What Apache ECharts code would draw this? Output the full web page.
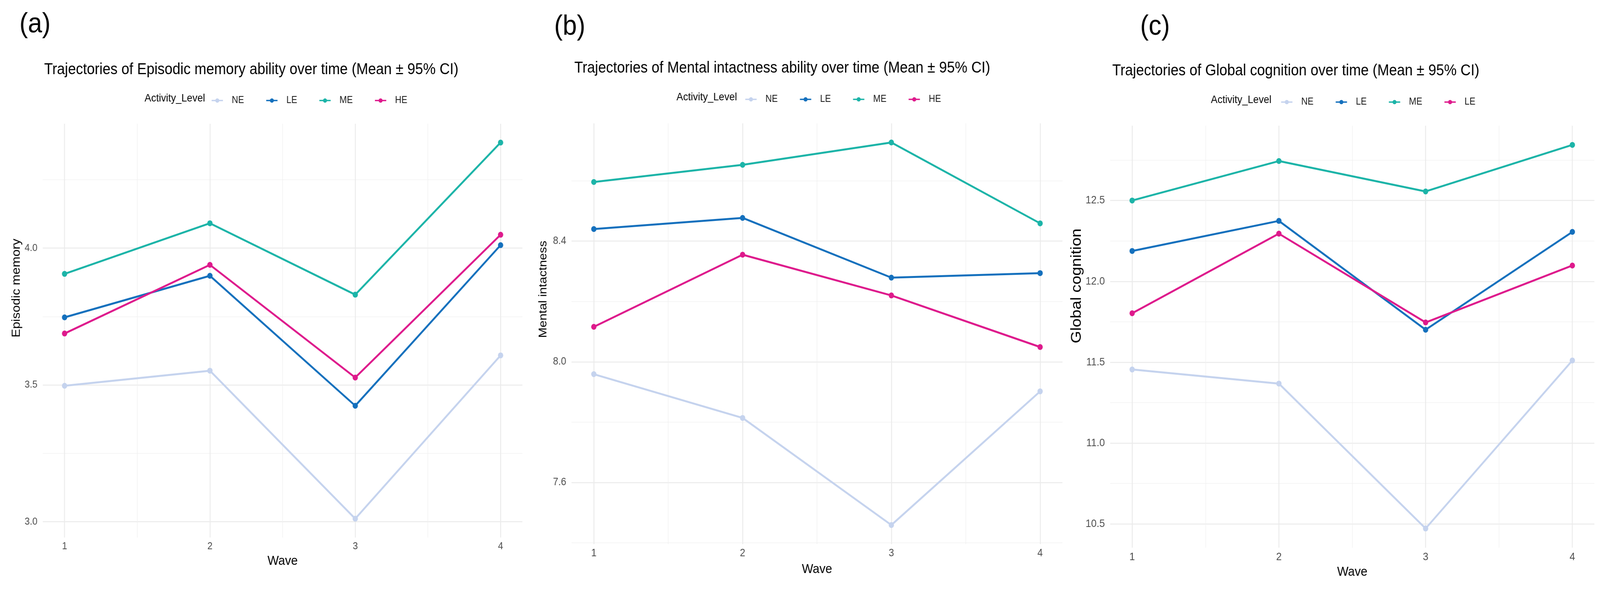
<!DOCTYPE html>
<html><head><meta charset="utf-8">
<script src="https://cdn.jsdelivr.net/npm/echarts@6/dist/echarts.min.js"></script>
<style>html,body{margin:0;padding:0;background:#fff;overflow:hidden}#wrap{width:4527px;height:1514px;transform-origin:0 0}#c{width:4527px;height:1514px}</style>
</head><body><div id="wrap"><div id="c"></div></div>
<script>
// ---------- data ----------
const waves = [1, 2, 3, 4];
const levels = ['NE', 'LE', 'ME', 'HE'];
const levelColors = ['#C5D3EE', '#1470BD', '#1CB4A8', '#DE1A8C'];

const episodicNE = [3.497, 3.552, 3.011, 3.608];
const episodicLE = [3.747, 3.899, 3.424, 4.011];
const episodicME = [3.906, 4.091, 3.830, 4.386];
const episodicHE = [3.688, 3.939, 3.527, 4.049];

const mentalNE = [7.959, 7.814, 7.459, 7.902];
const mentalLE = [8.440, 8.477, 8.279, 8.294];
const mentalME = [8.596, 8.653, 8.727, 8.459];
const mentalHE = [8.116, 8.355, 8.220, 8.049];

const globalNE = [11.455, 11.368, 10.472, 11.511];
const globalLE = [12.188, 12.374, 11.701, 12.306];
const globalME = [12.500, 12.744, 12.556, 12.844];
const globalHE = [11.803, 12.295, 11.746, 12.098];

const xMajor = [1, 2, 3, 4];
const xMinor = [1.5, 2.5, 3.5];
const yMajorA = [3.0, 3.5, 4.0];
const yMinorA = [3.25, 3.75, 4.25];
const yMajorB = [7.6, 8.0, 8.4];
const yMinorB = [7.4, 7.8, 8.2, 8.6];
const yMajorC = [10.5, 11.0, 11.5, 12.0, 12.5];
const yMinorC = [10.75, 11.25, 11.75, 12.25, 12.75];

const panelLetters = ['(a)', '(b)', '(c)'];
const panelTitles = [
  'Trajectories of Episodic memory ability over time (Mean \u00b1 95% CI)',
  'Trajectories of Mental intactness ability over time (Mean \u00b1 95% CI)',
  'Trajectories of Global cognition over time (Mean \u00b1 95% CI)'
];
const yNames = ['Episodic memory', 'Mental intactness', 'Global cognition'];
const xName = 'Wave';
const legendTitle = 'Activity_Level';
const legendLabelsC = { NE: 'NE', LE: 'LE', ME: 'ME', HE: 'LE' };

// ---------- fit the 4527x1514 design to the viewport ----------
const sx = window.innerWidth / 4527, sy = window.innerHeight / 1514;
document.getElementById('wrap').style.transform = 'scale(' + sx + ',' + sy + ')';

// ---------- layout / style ----------
const FONT = 'Liberation Sans, Arial, Helvetica, sans-serif';
const panels = [
  { series: [episodicNE, episodicLE, episodicME, episodicHE], yMajor: yMajorA, yMinor: yMinorA,
    grid: { left: 121, right: 3049, top: 317, bottom: 137 },
    letter: { left: 50, top: 22 }, title: { left: 120, top: 154 },
    legT: { left: 404, top: 233 }, leg: { left: 592, top: 240 },
    tick: 26, yNameSize: 33, yNameGap: 58, yNameShift: 218, xNameGap: 44 },
  { series: [mentalNE, mentalLE, mentalME, mentalHE], yMajor: yMajorB, yMinor: yMinorB,
    grid: { left: 1617, right: 1521, top: 316, bottom: 120 },
    letter: { left: 1563, top: 28 }, title: { left: 1620, top: 150 },
    legT: { left: 1909, top: 230 }, leg: { left: 2102, top: 237 },
    tick: 27, yNameSize: 32, yNameGap: 64, yNameShift: 228, xNameGap: 48 },
  { series: [globalNE, globalLE, globalME, globalHE], yMajor: yMajorC, yMinor: yMinorC,
    grid: { left: 3141, right: 16, top: 322, bottom: 111 },
    letter: { left: 3221, top: 28 }, title: { left: 3142, top: 157 },
    legT: { left: 3421, top: 237 }, leg: { left: 3618, top: 244 },
    tick: 28, yNameSize: 41, yNameGap: 66, yNameShift: 260, xNameGap: 46 }
];

function expand(vals) {
  const mn = Math.min.apply(null, vals), mx = Math.max.apply(null, vals);
  const r = mx - mn;
  return [mn - 0.05 * r, mx + 0.05 * r];
}

const title = [], grid = [], xAxis = [], yAxis = [], legend = [], series = [];
const xr = expand(waves);
panels.forEach((p, i) => {
  const all = [].concat.apply([], p.series);
  const yr = expand(all);
  title.push({ text: panelLetters[i], left: p.letter.left, top: p.letter.top,
    textStyle: { fontSize: 72, fontWeight: 'normal', color: '#000', fontFamily: FONT } });
  title.push({ text: panelTitles[i], left: p.title.left, top: p.title.top,
    textStyle: { fontSize: 40, fontWeight: 'normal', color: '#000', fontFamily: FONT } });
  title.push({ text: legendTitle, left: p.legT.left, top: p.legT.top,
    textStyle: { fontSize: 28, fontWeight: 'normal', color: '#000', fontFamily: FONT } });
  grid.push(Object.assign({ containLabel: false }, p.grid));
  xAxis.push({ type: 'value', gridIndex: i, min: xr[0], max: xr[1],
    axisLine: { show: false }, axisTick: { show: false, customValues: xMajor },
    axisLabel: { customValues: xMajor, fontSize: p.tick, color: '#4D4D4D', margin: 10, fontFamily: FONT },
    splitLine: { show: true, lineStyle: { color: '#EBEBEB', width: 2.6 } },
    name: xName, nameLocation: 'middle', nameGap: p.xNameGap,
    nameTextStyle: { fontSize: 34, color: '#000', fontFamily: FONT } });
  xAxis.push({ type: 'value', gridIndex: i, min: xr[0], max: xr[1],
    axisLine: { show: false }, axisTick: { show: false, customValues: xMinor },
    axisLabel: { show: false, customValues: xMinor },
    splitLine: { show: true, lineStyle: { color: '#F1F1F1', width: 1.4 } } });
  yAxis.push({ type: 'value', gridIndex: i, min: yr[0], max: yr[1],
    axisLine: { show: false }, axisTick: { show: false, customValues: p.yMajor },
    axisLabel: { customValues: p.yMajor, fontSize: p.tick, color: '#4D4D4D', margin: 15, fontFamily: FONT,
      formatter: v => v.toFixed(1) },
    splitLine: { show: true, lineStyle: { color: '#EBEBEB', width: 2.6 } },
    name: yNames[i], nameLocation: 'middle', nameGap: p.yNameGap,
    nameTextStyle: { fontSize: p.yNameSize, color: '#000', fontFamily: FONT, padding: [0, 0, 0, p.yNameShift] } });
  yAxis.push({ type: 'value', gridIndex: i, min: yr[0], max: yr[1],
    axisLine: { show: false }, axisTick: { show: false, customValues: p.yMinor },
    axisLabel: { show: false, customValues: p.yMinor },
    splitLine: { show: true, lineStyle: { color: '#F1F1F1', width: 1.4 } } });

  legend.push({ left: p.leg.left, top: p.leg.top, orient: 'horizontal',
    data: levels, itemWidth: 32, itemHeight: 14, itemGap: 61,
    lineStyle: { width: 3.5 },
    textStyle: { fontSize: 25, color: '#1A1A1A', fontFamily: FONT, padding: [0, 0, 0, 20] },
    formatter: i === 2 ? (n => legendLabelsC[n]) : (n => n),
    selectedMode: false });

  p.series.forEach((vals, k) => {
    series.push({ type: 'line', name: levels[k], xAxisIndex: 2 * i, yAxisIndex: 2 * i,
      data: waves.map((w, j) => [w, vals[j]]),
      symbol: 'circle', symbolSize: 15, showSymbol: true,
      lineStyle: { width: 5, color: levelColors[k] },
      itemStyle: { color: levelColors[k] },
      z: 2 + k, silent: true, animation: false });
  });
});

const chart = echarts.init(document.getElementById('c'), null, { renderer: 'canvas' });
chart.setOption({ backgroundColor: '#fff', animation: false, title, grid, xAxis, yAxis, legend, series });
</script></body></html>
